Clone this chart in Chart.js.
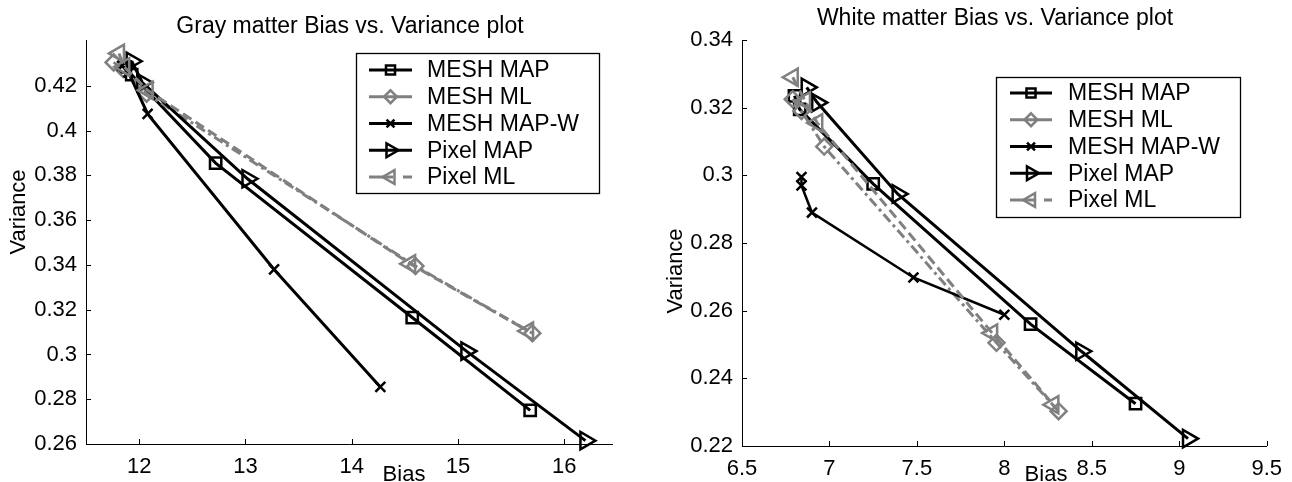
<!DOCTYPE html>
<html>
<head>
<meta charset="utf-8">
<script src="https://cdn.jsdelivr.net/npm/chart.js@4.4.1/dist/chart.umd.min.js"></script>
<style>
  html, body { margin: 0; padding: 0; background: #fff; }
  #wrap { position: relative; width: 1292px; height: 482px; overflow: hidden; }
  .pane { position: absolute; top: 0; width: 646px; height: 482px; }
  #p1 { left: 0; }
  #p2 { left: 646px; }
</style>
</head>
<body>
<div id="wrap">
  <div class="pane" id="p1"><canvas id="c1" width="646" height="482"></canvas></div>
  <div class="pane" id="p2"><canvas id="c2" width="646" height="482"></canvas></div>
</div>
<script>
// ---------------- DATA ----------------
const seriesNames = ['MESH MAP', 'MESH ML', 'MESH MAP-W', 'Pixel MAP', 'Pixel ML'];

// Gray matter (Bias, Variance)
const grayMeshMapBias   = [11.87, 11.93, 12.72, 14.57, 15.68];
const grayMeshMapVar    = [0.4285, 0.4250, 0.3855, 0.3165, 0.2750];
const grayMeshMlBias    = [11.76, 11.85, 12.07, 14.60, 15.70];
const grayMeshMlVar     = [0.4305, 0.4275, 0.4165, 0.3395, 0.3095];
const grayMeshMapWBias  = [11.84, 11.90, 12.08, 13.27, 14.27];
const grayMeshMapWVar   = [0.4290, 0.4260, 0.4075, 0.3380, 0.2855];
const grayPixelMapBias  = [11.93, 12.03, 13.02, 15.08, 16.20];
const grayPixelMapVar   = [0.4310, 0.4215, 0.3785, 0.3015, 0.2615];
const grayPixelMlBias   = [11.81, 11.86, 12.08, 14.55, 15.66];
const grayPixelMlVar    = [0.4345, 0.4285, 0.4180, 0.3405, 0.3105];

// White matter (Bias, Variance)
const whiteMeshMapBias  = [6.80, 6.83, 7.25, 8.15, 8.75];
const whiteMeshMapVar   = [0.3235, 0.3195, 0.2975, 0.2560, 0.2325];
const whiteMeshMlBias   = [6.79, 6.84, 6.97, 7.955, 8.31];
const whiteMeshMlVar    = [0.3225, 0.3190, 0.3085, 0.2505, 0.2303];
const whiteMeshMapWBias = [6.84, 6.84, 6.90, 7.48, 8.00];
const whiteMeshMapWVar  = [0.2995, 0.2970, 0.2890, 0.2698, 0.2588];
const whitePixelMapBias = [6.87, 6.93, 7.39, 8.44, 9.05];
const whitePixelMapVar  = [0.3260, 0.3215, 0.2945, 0.2480, 0.2222];
const whitePixelMlBias  = [6.79, 6.86, 6.93, 7.93, 8.28];
const whitePixelMlVar   = [0.3290, 0.3220, 0.3155, 0.2534, 0.2322];

// Tick labels
const grayXTicks  = [12, 13, 14, 15, 16];
const grayYTicks  = [0.26, 0.28, 0.30, 0.32, 0.34, 0.36, 0.38, 0.40, 0.42];
const whiteXTicks = [6.5, 7, 7.5, 8, 8.5, 9, 9.5];
const whiteYTicks = [0.22, 0.24, 0.26, 0.28, 0.30, 0.32, 0.34];

// ---------------- STYLES ----------------
const FONT = "'Liberation Sans', Arial, Helvetica, sans-serif";
const BLACK = '#000000';
const GRAY = '#808080';
const styles = [
  { color: BLACK, dash: [], legendDash: [], pointStyle: 'rect', rotation: 0, radius: 8, width: 3 },
  { color: GRAY, dash: [10, 4, 3, 4], legendDash: [], pointStyle: 'rectRot', rotation: 0, radius: 8, width: 3 },
  { color: BLACK, dash: [], legendDash: [], pointStyle: 'crossRot', rotation: 0, radius: 7, width: 3 },
  { color: BLACK, dash: [], legendDash: [], pointStyle: 'triangle', rotation: 90, radius: 10, width: 3 },
  { color: GRAY, dash: [10, 5], legendDash: [24, 10], pointStyle: 'triangle', rotation: -90, radius: 10, width: 3 }
];

function pts(xs, ys) { return xs.map((v, i) => ({ x: v, y: ys[i] })); }

function makeDatasets(list, lineWidths) {
  return list.map((d, i) => {
    const s = styles[i];
    return {
      label: seriesNames[i],
      data: d,
      showLine: true,
      borderColor: s.color,
      borderWidth: lineWidths ? lineWidths[i] : s.width,
      borderDash: s.dash,
      pointStyle: s.pointStyle,
      rotation: s.rotation,
      pointRadius: s.radius,
      pointBorderWidth: 2.5,
      pointBorderColor: s.color,
      pointBackgroundColor: 'rgba(0,0,0,0)',
      fill: false,
      tension: 0,
      clip: false,
      order: 5 - i
    };
  });
}

// Decorations: title, inward ticks, axis labels, MATLAB-style legend
const deco = {
  id: 'deco',
  afterDraw(chart, args, o) {
    const ctx = chart.ctx;
    const xs = chart.scales.x, ys = chart.scales.y;
    const ca = chart.chartArea;
    ctx.save();
    // title
    ctx.fillStyle = BLACK;
    ctx.font = o.titleFont;
    ctx.textAlign = 'center';
    ctx.textBaseline = 'alphabetic';
    ctx.fillText(o.title.text, o.title.x, o.title.y);
    // inward ticks
    ctx.strokeStyle = BLACK;
    ctx.lineWidth = 1;
    ctx.setLineDash([]);
    xs.ticks.forEach(t => {
      const px = Math.round(xs.getPixelForValue(t.value)) + 0.5;
      ctx.beginPath(); ctx.moveTo(px, ca.bottom); ctx.lineTo(px, ca.bottom - 5); ctx.stroke();
    });
    ys.ticks.forEach(t => {
      const py = Math.round(ys.getPixelForValue(t.value)) + 0.5;
      ctx.beginPath(); ctx.moveTo(ca.left, py); ctx.lineTo(ca.left + 5, py); ctx.stroke();
    });
    // axis labels
    ctx.font = o.labelFont;
    ctx.fillText(o.xLabel.text, o.xLabel.x, o.xLabel.y);
    ctx.save();
    ctx.translate(o.yLabel.x, o.yLabel.y);
    ctx.rotate(-Math.PI / 2);
    ctx.textBaseline = 'middle';
    ctx.fillText(o.yLabel.text, 0, 0);
    ctx.restore();
    // legend
    const L = o.legend;
    ctx.fillStyle = '#ffffff';
    ctx.fillRect(L.left, L.top, L.right - L.left, L.bottom - L.top);
    ctx.strokeStyle = BLACK;
    ctx.lineWidth = 1.3;
    ctx.strokeRect(L.left + 0.5, L.top + 0.5, L.right - L.left, L.bottom - L.top);
    chart.data.datasets.forEach((ds, i) => {
      const s = styles[i];
      const y = L.rowTop + i * L.rowStep;
      ctx.strokeStyle = s.color;
      ctx.lineWidth = 3;
      ctx.setLineDash(s.legendDash);
      ctx.beginPath(); ctx.moveTo(L.lineX0, y); ctx.lineTo(L.lineX1, y); ctx.stroke();
      ctx.setLineDash([]);
      ctx.fillStyle = 'rgba(0,0,0,0)';
      ctx.strokeStyle = s.color;
      ctx.lineWidth = 2.5;
      Chart.helpers.drawPoint(ctx, { pointStyle: s.pointStyle, rotation: s.rotation, radius: s.radius * 0.8, borderWidth: 2.5 }, (L.lineX0 + L.lineX1) / 2, y);
      ctx.fillStyle = BLACK;
      ctx.font = o.legendFont;
      ctx.textAlign = 'left';
      ctx.textBaseline = 'middle';
      ctx.fillText(ds.label, L.textX, y + 1);
    });
    ctx.restore();
  }
};

function makeChart(id, cfg) {
  return new Chart(document.getElementById(id), {
    type: 'scatter',
    data: { datasets: cfg.datasets },
    plugins: [deco],
    options: {
      responsive: false,
      animation: false,
      events: [],
      layout: { padding: { left: 0, right: cfg.padRight, top: 40, bottom: 0 } },
      plugins: {
        legend: { display: false },
        tooltip: { enabled: false },
        title: { display: false },
        deco: cfg.deco
      },
      scales: {
        x: {
          type: 'linear',
          min: cfg.xMin, max: cfg.xMax,
          afterBuildTicks: s => { s.ticks = cfg.xTicks.map(v => ({ value: v })); },
          afterFit: s => { s.height = cfg.xAxisH; },
          grid: { display: false, drawTicks: false, tickLength: 0 },
          border: { display: true, color: BLACK, width: 1 },
          ticks: { color: BLACK, padding: 10, maxRotation: 0, autoSkip: false,
                   font: { family: FONT, size: 22 }, callback: v => String(v) }
        },
        y: {
          type: 'linear',
          min: cfg.yMin, max: cfg.yMax,
          afterBuildTicks: s => { s.ticks = cfg.yTicks.map(v => ({ value: v })); },
          afterFit: s => { s.width = cfg.yAxisW; },
          grid: { display: false, drawTicks: false, tickLength: 0 },
          border: { display: true, color: BLACK, width: 1 },
          ticks: { color: BLACK, padding: 9, autoSkip: false,
                   font: { family: FONT, size: 22 }, callback: v => String(parseFloat(v.toFixed(4))) }
        }
      }
    }
  });
}

makeChart('c1', {
  datasets: makeDatasets([
    pts(grayMeshMapBias, grayMeshMapVar),
    pts(grayMeshMlBias, grayMeshMlVar),
    pts(grayMeshMapWBias, grayMeshMapWVar),
    pts(grayPixelMapBias, grayPixelMapVar),
    pts(grayPixelMlBias, grayPixelMlVar)
  ]),
  xMin: 11.5, xMax: 16.45, yMin: 0.26, yMax: 0.4405,
  xTicks: grayXTicks, yTicks: grayYTicks,
  padRight: 34, xAxisH: 38, yAxisW: 86,
  deco: {
    titleFont: '23px ' + FONT,
    labelFont: '22px ' + FONT,
    legendFont: '23px ' + FONT,
    title: { text: 'Gray matter Bias vs. Variance plot', x: 350, y: 33 },
    xLabel: { text: 'Bias', x: 404, y: 481 },
    yLabel: { text: 'Variance', x: 19, y: 212 },
    legend: { left: 356, right: 599, top: 53, bottom: 193, rowTop: 70, rowStep: 26.75,
              lineX0: 369, lineX1: 412, textX: 427 }
  }
});

makeChart('c2', {
  datasets: makeDatasets([
    pts(whiteMeshMapBias, whiteMeshMapVar),
    pts(whiteMeshMlBias, whiteMeshMlVar),
    pts(whiteMeshMapWBias, whiteMeshMapWVar),
    pts(whitePixelMapBias, whitePixelMapVar),
    pts(whitePixelMlBias, whitePixelMlVar)
  ], [3, 3, 2.5, 3, 3]),
  xMin: 6.5, xMax: 9.5, yMin: 0.22, yMax: 0.34,
  xTicks: whiteXTicks, yTicks: whiteYTicks,
  padRight: 24, xAxisH: 36, yAxisW: 96,
  deco: {
    titleFont: '23px ' + FONT,
    labelFont: '22px ' + FONT,
    legendFont: '23px ' + FONT,
    title: { text: 'White matter Bias vs. Variance plot', x: 349, y: 25 },
    xLabel: { text: 'Bias', x: 400, y: 481 },
    yLabel: { text: 'Variance', x: 30, y: 271 },
    legend: { left: 350, right: 594, top: 77, bottom: 217, rowTop: 93, rowStep: 26.75,
              lineX0: 364, lineX1: 406, textX: 422 }
  }
});
</script>
</body>
</html>
